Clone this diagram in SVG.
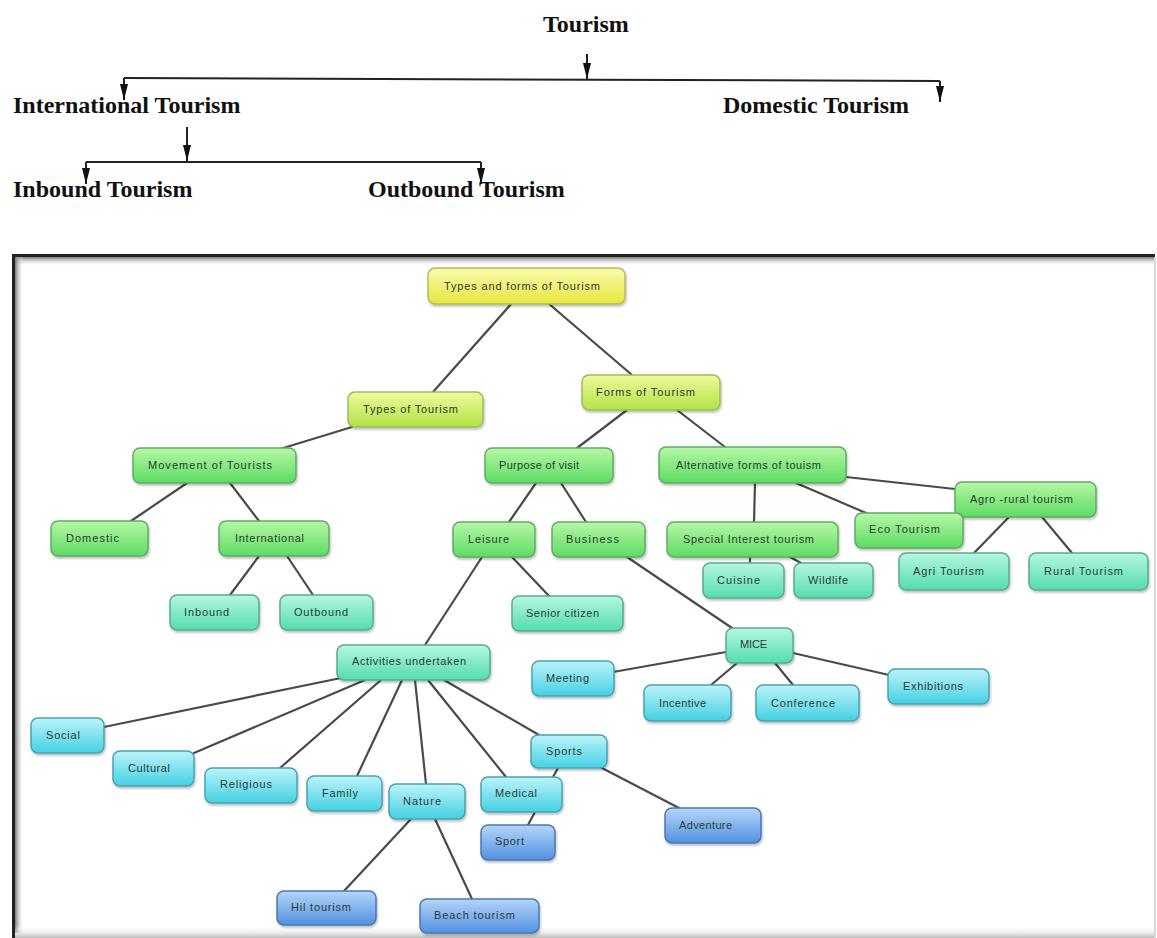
<svg xmlns="http://www.w3.org/2000/svg" width="1157" height="938" viewBox="0 0 1157 938">
<defs>
<linearGradient id="gY" x1="0" y1="0" x2="0" y2="1"><stop offset="0" stop-color="#fbfbae"/><stop offset="1" stop-color="#e6e63e"/></linearGradient>
<linearGradient id="gYG" x1="0" y1="0" x2="0" y2="1"><stop offset="0" stop-color="#eefa9c"/><stop offset="1" stop-color="#b2e244"/></linearGradient>
<linearGradient id="gG" x1="0" y1="0" x2="0" y2="1"><stop offset="0" stop-color="#b6f7a6"/><stop offset="1" stop-color="#5cdc62"/></linearGradient>
<linearGradient id="gT" x1="0" y1="0" x2="0" y2="1"><stop offset="0" stop-color="#b4f8e0"/><stop offset="1" stop-color="#54dcae"/></linearGradient>
<linearGradient id="gC" x1="0" y1="0" x2="0" y2="1"><stop offset="0" stop-color="#bcf4fa"/><stop offset="1" stop-color="#44d0e2"/></linearGradient>
<linearGradient id="gB" x1="0" y1="0" x2="0" y2="1"><stop offset="0" stop-color="#b4d6fa"/><stop offset="1" stop-color="#5290e0"/></linearGradient>
<linearGradient id="shTop" x1="0" y1="0" x2="0" y2="1"><stop offset="0" stop-color="#777"/><stop offset="1" stop-color="#fff" stop-opacity="0"/></linearGradient>
<linearGradient id="shLeft" x1="0" y1="0" x2="1" y2="0"><stop offset="0" stop-color="#777"/><stop offset="1" stop-color="#fff" stop-opacity="0"/></linearGradient>
<linearGradient id="shBot" x1="0" y1="0" x2="0" y2="1"><stop offset="0" stop-color="#fff" stop-opacity="0"/><stop offset="1" stop-color="#bbb"/></linearGradient>
<filter id="ds" x="-10%" y="-20%" width="125%" height="150%"><feDropShadow dx="1" dy="2" stdDeviation="1.2" flood-color="#000" flood-opacity="0.25"/></filter>
<marker id="ah" viewBox="0 0 16 8" refX="16" refY="4" markerWidth="16" markerHeight="8" markerUnits="userSpaceOnUse" orient="auto"><path d="M0,0 L16,4 L0,8 Z" fill="#111"/></marker>
<style>
.top{font-family:"Liberation Serif","Times New Roman",serif;font-weight:bold;font-size:24px;fill:#111}
.tl{stroke:#222;stroke-width:2;fill:none}
.n rect{stroke-width:1.5;filter:url(#ds)}
.y rect{fill:url(#gY);stroke:#b9b95e}
.yg rect{fill:url(#gYG);stroke:#9cbc5e}
.g rect{fill:url(#gG);stroke:#62ab66}
.t rect{fill:url(#gT);stroke:#5aab90}
.c rect{fill:url(#gC);stroke:#4aa2b2}
.b rect{fill:url(#gB);stroke:#4a78b2}
.n text{font-family:"Liberation Sans",Arial,sans-serif;font-size:11px;fill:#2e3a34}
#connectors line{stroke:#4a4a4a;stroke-width:2.2;stroke-linecap:round}
</style>
</defs>
<rect x="0" y="0" width="1157" height="938" fill="#fff"/>

<!-- top hierarchy -->
<g id="top-tree">
<text class="top" x="543" y="32">Tourism</text>
<line class="tl" x1="587" y1="54" x2="587" y2="79" marker-end="url(#ah)"/>
<line class="tl" x1="124" y1="78" x2="940" y2="81"/>
<line class="tl" x1="124" y1="78" x2="124" y2="100" marker-end="url(#ah)"/>
<line class="tl" x1="940" y1="81" x2="940" y2="102" marker-end="url(#ah)"/>
<text class="top" x="13" y="113">International Tourism</text>
<text class="top" x="723" y="113">Domestic Tourism</text>
<line class="tl" x1="187" y1="127" x2="187" y2="161" marker-end="url(#ah)"/>
<line class="tl" x1="86" y1="162" x2="481" y2="162"/>
<line class="tl" x1="86" y1="162" x2="86" y2="184" marker-end="url(#ah)"/>
<line class="tl" x1="481" y1="162" x2="481" y2="184" marker-end="url(#ah)"/>
<text class="top" x="13" y="197">Inbound Tourism</text>
<text class="top" x="368" y="197">Outbound Tourism</text>
</g>

<!-- frame -->
<g id="frame">
<rect x="15" y="257" width="1139" height="9" fill="url(#shTop)"/>
<rect x="15" y="257" width="9" height="676" fill="url(#shLeft)"/>
<rect x="15" y="926" width="1141" height="12" fill="url(#shBot)"/>
<rect x="12" y="254" width="1143" height="3" fill="#222"/>
<rect x="12" y="254" width="3" height="684" fill="#222"/>
<rect x="1154" y="257" width="2" height="681" fill="#d8d8d8"/>
</g>

<g id="connectors">
<line x1="512" y1="303" x2="433" y2="392"/>
<line x1="548" y1="303" x2="632" y2="375"/>
<line x1="352" y1="427" x2="280" y2="449"/>
<line x1="627" y1="410" x2="577" y2="448"/>
<line x1="677" y1="410" x2="725" y2="447"/>
<line x1="187" y1="483" x2="131" y2="521"/>
<line x1="230" y1="483" x2="259" y2="521"/>
<line x1="259" y1="556" x2="230" y2="595"/>
<line x1="287" y1="556" x2="313" y2="595"/>
<line x1="536" y1="483" x2="509" y2="522"/>
<line x1="561" y1="483" x2="586" y2="522"/>
<line x1="755" y1="483" x2="754" y2="522"/>
<line x1="796" y1="483" x2="866" y2="513"/>
<line x1="846" y1="477" x2="955" y2="489"/>
<line x1="1009" y1="517" x2="974" y2="553"/>
<line x1="1042" y1="517" x2="1072" y2="553"/>
<line x1="750" y1="557" x2="750" y2="563"/>
<line x1="790" y1="557" x2="801" y2="563"/>
<line x1="482" y1="557" x2="425" y2="645"/>
<line x1="512" y1="557" x2="550" y2="597"/>
<line x1="627" y1="557" x2="732" y2="628"/>
<line x1="726" y1="652" x2="613" y2="672"/>
<line x1="737" y1="663" x2="711" y2="685"/>
<line x1="775" y1="663" x2="793" y2="685"/>
<line x1="793" y1="653" x2="889" y2="675"/>
<line x1="341" y1="678" x2="104" y2="727"/>
<line x1="365" y1="680" x2="194" y2="753"/>
<line x1="381" y1="680" x2="280" y2="768"/>
<line x1="402" y1="680" x2="357" y2="776"/>
<line x1="415" y1="680" x2="426" y2="784"/>
<line x1="428" y1="680" x2="506" y2="777"/>
<line x1="444" y1="680" x2="539" y2="735"/>
<line x1="558" y1="768" x2="553" y2="777"/>
<line x1="535" y1="812" x2="528" y2="825"/>
<line x1="600" y1="767" x2="679" y2="808"/>
<line x1="411" y1="819" x2="344" y2="891"/>
<line x1="435" y1="819" x2="472" y2="899"/>
</g>

<g id="n-root" class="n y"><rect x="428" y="268" width="197" height="36" rx="7"/><text x="444" y="290" textLength="156">Types and forms of Tourism</text></g>
<g id="n-types" class="n yg"><rect x="348" y="392" width="135" height="35" rx="7"/><text x="363" y="413" textLength="95">Types of Tourism</text></g>
<g id="n-forms" class="n yg"><rect x="582" y="375" width="138" height="35" rx="7"/><text x="596" y="396" textLength="99">Forms of Tourism</text></g>
<g id="n-movement" class="n g"><rect x="133" y="448" width="163" height="35" rx="7"/><text x="148" y="469" textLength="124">Movement  of  Tourists</text></g>
<g id="n-purpose" class="n g"><rect x="485" y="448" width="128" height="35" rx="7"/><text x="499" y="469" textLength="80">Purpose of visit</text></g>
<g id="n-alternative" class="n g"><rect x="659" y="447" width="187" height="36" rx="7"/><text x="676" y="469" textLength="145">Alternative forms of touism</text></g>
<g id="n-agro" class="n g"><rect x="955" y="482" width="141" height="35" rx="7"/><text x="970" y="503" textLength="103">Agro -rural tourism</text></g>
<g id="n-domestic" class="n g"><rect x="51" y="521" width="97" height="35" rx="7"/><text x="66" y="542" textLength="53">Domestic</text></g>
<g id="n-international" class="n g"><rect x="219" y="521" width="110" height="35" rx="7"/><text x="235" y="542" textLength="69">International</text></g>
<g id="n-leisure" class="n g"><rect x="453" y="522" width="82" height="35" rx="7"/><text x="468" y="543" textLength="41">Leisure</text></g>
<g id="n-business" class="n g"><rect x="552" y="522" width="93" height="35" rx="7"/><text x="566" y="543" textLength="53">Business</text></g>
<g id="n-special" class="n g"><rect x="667" y="522" width="171" height="35" rx="7"/><text x="683" y="543" textLength="131">Special Interest tourism</text></g>
<g id="n-eco" class="n g"><rect x="855" y="513" width="108" height="35" rx="7"/><text x="869" y="533" textLength="71">Eco Tourism</text></g>
<g id="n-agri" class="n t"><rect x="899" y="553" width="110" height="37" rx="7"/><text x="913" y="575" textLength="71">Agri Tourism</text></g>
<g id="n-rural" class="n t"><rect x="1029" y="553" width="119" height="37" rx="7"/><text x="1044" y="575" textLength="79">Rural Tourism</text></g>
<g id="n-cuisine" class="n t"><rect x="703" y="563" width="81" height="35" rx="7"/><text x="717" y="584" textLength="43">Cuisine</text></g>
<g id="n-wildlife" class="n t"><rect x="794" y="563" width="79" height="35" rx="7"/><text x="808" y="584" textLength="40">Wildlife</text></g>
<g id="n-inbound" class="n t"><rect x="170" y="595" width="89" height="35" rx="7"/><text x="184" y="616" textLength="45">Inbound</text></g>
<g id="n-outbound" class="n t"><rect x="280" y="595" width="93" height="35" rx="7"/><text x="294" y="616" textLength="54">Outbound</text></g>
<g id="n-senior" class="n t"><rect x="512" y="596" width="111" height="35" rx="7"/><text x="526" y="617" textLength="73">Senior citizen</text></g>
<g id="n-activities" class="n t"><rect x="337" y="645" width="153" height="35" rx="7"/><text x="352" y="665" textLength="114">Activities undertaken</text></g>
<g id="n-mice" class="n t"><rect x="726" y="628" width="67" height="35" rx="7"/><text x="740" y="648" textLength="27">MICE</text></g>
<g id="n-meeting" class="n c"><rect x="532" y="661" width="82" height="35" rx="7"/><text x="546" y="682" textLength="43">Meeting</text></g>
<g id="n-incentive" class="n c"><rect x="644" y="685" width="87" height="36" rx="7"/><text x="659" y="707" textLength="47">Incentive</text></g>
<g id="n-conference" class="n c"><rect x="756" y="685" width="103" height="36" rx="7"/><text x="771" y="707" textLength="64">Conference</text></g>
<g id="n-exhibitions" class="n c"><rect x="888" y="669" width="101" height="35" rx="7"/><text x="903" y="690" textLength="60">Exhibitions</text></g>
<g id="n-social" class="n c"><rect x="31" y="718" width="73" height="35" rx="7"/><text x="46" y="739" textLength="34">Social</text></g>
<g id="n-cultural" class="n c"><rect x="113" y="751" width="81" height="35" rx="7"/><text x="128" y="772" textLength="42">Cultural</text></g>
<g id="n-religious" class="n c"><rect x="205" y="768" width="92" height="35" rx="7"/><text x="220" y="788" textLength="52">Religious</text></g>
<g id="n-family" class="n c"><rect x="307" y="776" width="75" height="35" rx="7"/><text x="322" y="797" textLength="36">Family</text></g>
<g id="n-nature" class="n c"><rect x="389" y="784" width="76" height="35" rx="7"/><text x="403" y="805" textLength="38">Nature</text></g>
<g id="n-sports" class="n c"><rect x="531" y="735" width="76" height="33" rx="7"/><text x="546" y="755" textLength="36">Sports</text></g>
<g id="n-medical" class="n c"><rect x="481" y="777" width="81" height="35" rx="7"/><text x="495" y="797" textLength="42">Medical</text></g>
<g id="n-sport" class="n b"><rect x="481" y="825" width="74" height="35" rx="7"/><text x="495" y="845" textLength="29">Sport</text></g>
<g id="n-adventure" class="n b"><rect x="665" y="808" width="96" height="35" rx="7"/><text x="679" y="829" textLength="53">Adventure</text></g>
<g id="n-hil" class="n b"><rect x="277" y="891" width="99" height="34" rx="7"/><text x="291" y="911" textLength="60">Hil tourism</text></g>
<g id="n-beach" class="n b"><rect x="420" y="899" width="119" height="34" rx="7"/><text x="434" y="919" textLength="81">Beach tourism</text></g>
</svg>
